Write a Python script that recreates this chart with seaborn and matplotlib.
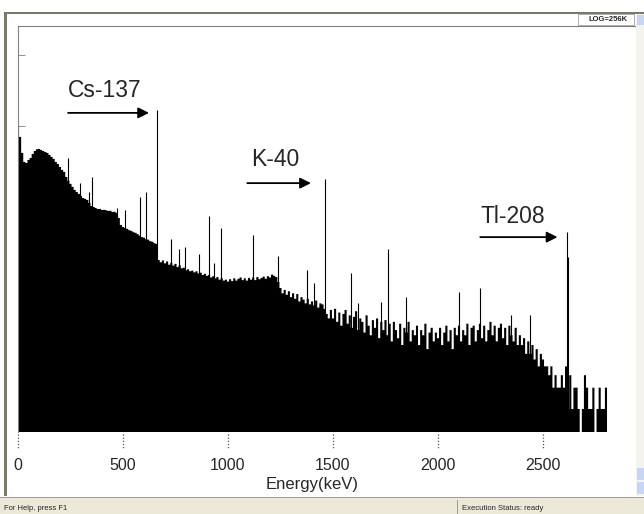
import numpy as np
import pandas as pd
import matplotlib
matplotlib.use("Agg")
import matplotlib.pyplot as plt
import matplotlib.patches as mpatches
import matplotlib.transforms as mtransforms
import seaborn as sns

# continuum counts per 10 keV channel
counts_0_490 = [10300, 6950, 4130, 3080, 2980, 3290, 3510, 4000, 4400, 4650,
                4700, 4550, 4400, 4260, 4130, 3870, 3630, 3400, 3080, 2880,
                2620, 2380, 2230, 1890, 1670, 1510, 1370, 1240, 1160, 1090,
                1020, 953, 926, 895, 813, 736, 713, 690, 668, 668,
                647, 650, 640, 627, 630, 606, 610, 587, 499, 397]
counts_500_990 = [372, 360, 350, 335, 328, 314, 307, 294, 280, 268,
                  262, 250, 246, 234, 230, 219, 214, 127, 118, 125,
                  114, 121, 109, 116, 106, 112, 101, 107, 97, 99,
                  91, 94, 88, 90, 85, 88, 82, 84, 78, 81,
                  76, 78, 72, 75, 70, 73, 67, 70, 65, 67]
counts_1000_1490 = [63, 68, 64, 70, 65, 69, 72, 66, 70, 65,
                    71, 67, 72, 66, 73, 68, 71, 74, 69, 75,
                    72, 79, 76, 73, 62, 51, 43, 48, 41, 46,
                    38, 43, 36, 42, 33, 38, 35, 31, 36, 30,
                    33, 29, 34, 27, 31, 30, 26, 22, 19, 25]
counts_1500_1990 = [19, 26, 17, 23, 15, 22, 25, 16, 21, 14,
                    20, 24, 13, 19, 17, 12, 21, 15, 11, 18,
                    14, 19, 10, 17, 13, 18, 11, 16, 9, 17,
                    13, 10, 16, 8, 14, 12, 17, 9, 13, 11,
                    15, 8, 13, 11, 16, 7, 12, 14, 9, 12]
counts_2000_2490 = [10, 14, 8, 12, 15, 9, 13, 7, 14, 11,
                    15, 9, 13, 11, 16, 8, 14, 15, 9, 13,
                    16, 10, 15, 9, 13, 17, 11, 15, 9, 14,
                    16, 10, 14, 8, 15, 11, 9, 14, 8, 11,
                    8, 10, 6, 9, 6, 8, 5, 7, 4, 6]
counts_2500_2800 = [5, 4, 4, 3, 4, 2, 3, 2, 2, 3,
                    2, 4, 1, 3, 1, 2, 2, 1, 0, 1,
                    3, 2, 1, 1, 2, 0, 1, 2, 1, 1, 2]

channel_kev = np.arange(0, 2810, 10)
counts = (counts_0_490 + counts_500_990 + counts_1000_1490 +
          counts_1500_1990 + counts_2000_2490 + counts_2500_2800)

# photopeaks (keV, counts at the top of the line)
peak_kev = [240, 295, 338, 352, 470, 510, 583, 609, 662, 727, 768, 795,
            860, 911, 934, 967, 1120, 1238, 1377, 1408, 1461, 1588, 1620,
            1729, 1764, 1847, 2100, 2200, 2350, 2440, 2614, 2618]
peak_counts = [3510, 1560, 1160, 1890, 700, 650, 986, 1160, 16700, 252, 182,
               194, 155, 532, 115, 360, 287, 145, 92, 60, 1770, 83, 31,
               32, 182, 38, 45, 51, 21, 21, 316, 140]

labels = ["Cs-137", "K-40", "Tl-208"]
xtick_vals = [0, 500, 1000, 1500, 2000, 2500]

spec = pd.DataFrame({"kev": channel_kev.astype(float),
                     "counts": np.array(counts, dtype=float)})

W, H = 644, 514
y_bottom = 10 ** -0.325
y_top = 2.56e5

sns.set_theme(style="white")
plt.rcParams['font.family'] = ['Liberation Sans', 'DejaVu Sans']
narrow = ["Liberation Sans Narrow", "Liberation Sans", "DejaVu Sans"]

fig = plt.figure(figsize=(W / 100, H / 100), dpi=100)
fig.patch.set_facecolor("white")

# axes placed where the plot window is in the screenshot
ax = fig.add_axes([18 / W, (H - 432) / H, 618 / W, 406 / H])
ax.set_facecolor("white")

sns.histplot(data=spec, x="kev", weights="counts", binwidth=10,
             binrange=(-5, 2805), element="step", fill=True,
             color="black", alpha=1, linewidth=0, ax=ax)
ax.vlines(peak_kev, y_bottom, peak_counts, color="black", linewidth=0.8)

ax.set_yscale("log")
ax.set_ylim(y_bottom, y_top)
ax.set_xlim(0, 2943)

for side in ["right", "bottom"]:
    ax.spines[side].set_visible(False)
for side in ["left", "top"]:
    ax.spines[side].set_color("#808080")
    ax.spines[side].set_linewidth(0.8)

ax.set_yticks([1e4, 1e5])
ax.set_yticklabels([])
ax.yaxis.set_minor_locator(matplotlib.ticker.NullLocator())
ax.tick_params(axis="y", direction="in", length=5, width=0.6,
               color="#808080", left=True)

ax.set_xticks(xtick_vals)
ax.set_xticklabels([str(v) for v in xtick_vals], fontsize=11.5)
ax.tick_params(axis="x", length=0, pad=18.5)
ax.set_ylabel("")

# dotted tick marks below the axis
trans = mtransforms.blended_transform_factory(ax.transData, ax.transAxes)
for v in xtick_vals:
    ax.plot([v, v], [-0.004, -0.04], transform=trans, color="#555555",
            lw=0.9, ls=(0, (1, 1.5)), clip_on=False)

ax.set_xlabel("Energy(keV)", fontsize=12, va="center")
ax.xaxis.set_label_coords((312 - 18) / 618, -(485 - 432) / 406)

# isotope labels and arrows (axes fraction positions)
label_pos = [(0.081, 0.842), (0.377, 0.670), (0.748, 0.532)]
arrow_pos = [(0.081, 0.212, 0.786), (0.371, 0.474, 0.613),
             (0.748, 0.873, 0.480)]
for lab, (tx, ty), (x0, x1, ay) in zip(labels, label_pos, arrow_pos):
    ax.text(tx, ty, lab, transform=ax.transAxes, fontsize=16.5,
            ha="left", va="center")
    ax.annotate("", xy=(x1, ay), xytext=(x0, ay), xycoords="axes fraction",
                arrowprops=dict(arrowstyle="-|>", color="black", lw=1.3,
                                mutation_scale=16, shrinkA=0, shrinkB=0))


# window decoration: frame, LOG box, scrollbar, status bar
def px_rect(x, y, w, h, **kw):
    fig.add_artist(mpatches.Rectangle((x / W, 1 - (y + h) / H), w / W, h / H,
                                      transform=fig.transFigure, **kw))


px_rect(4, 12, 3, 484, color="#7a776b", lw=0)
px_rect(4, 12, 640, 2, color="#7a776b", lw=0)
px_rect(636, 14, 8, 482, color="#f4f3ee", lw=0)
px_rect(637, 15, 7, 10, color="#c8d6f5", lw=0)
px_rect(637, 468, 7, 12, color="#c8d6f5", lw=0)
px_rect(637, 482, 7, 12, color="#c8d6f5", lw=0)
px_rect(578, 14, 56, 11, facecolor="white", edgecolor="#a0a0a0", lw=0.6)
fig.text(608 / W, 1 - 19.5 / H, "LOG=256K", fontsize=5.5, weight="bold",
         ha="center", va="center", family=narrow)
px_rect(0, 497, 644, 17, color="#ece9d8", lw=0)
px_rect(0, 497, 644, 1, color="#a09f94", lw=0)
px_rect(457, 500, 1, 14, color="#a09f94", lw=0)
fig.text(4 / W, 1 - 508 / H, "For Help, press F1", fontsize=5.5,
         ha="left", va="center", family=narrow)
fig.text(462 / W, 1 - 508 / H, "Execution Status: ready", fontsize=5.5,
         ha="left", va="center", family=narrow)

fig.savefig("out.png", dpi=100)
